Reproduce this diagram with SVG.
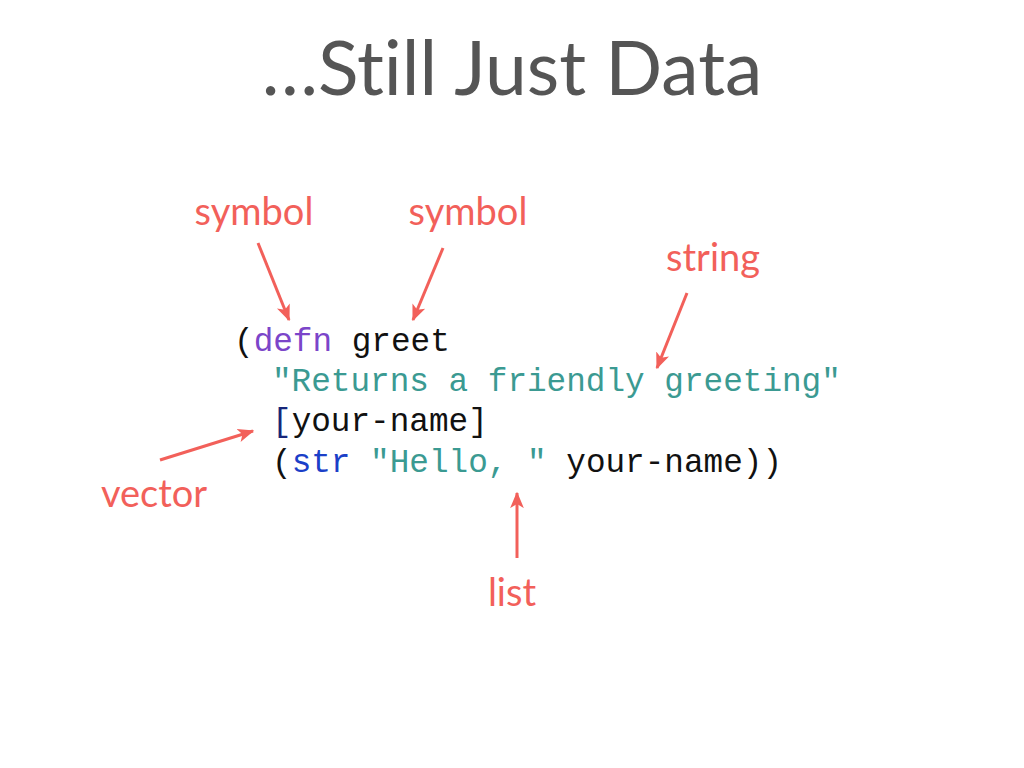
<svg xmlns="http://www.w3.org/2000/svg" width="1024" height="768" viewBox="0 0 1024 768">
<style>
.title{font-family:Lato,"Open Sans",sans-serif;font-size:75px;fill:#555555;font-variant-ligatures:none}
.lbl{font-family:Lato,"Open Sans",sans-serif;font-size:38px;fill:#f2605a;text-anchor:middle}
.code{font-family:"Liberation Mono",monospace;font-size:32.7px;fill:#111111;white-space:pre}
.kw{fill:#7b45c9}
.str{fill:#3b9a92}
.vec{fill:#17267a}
.fn{fill:#1b3fc8}
.arr{stroke:#f2605a;stroke-width:3;fill:none;marker-end:url(#ah)}
</style>
<defs>
<marker id="ah" viewBox="0 0 12 10" refX="11" refY="5" markerWidth="5.5" markerHeight="5.5" orient="auto" markerUnits="strokeWidth">
<path d="M0,0 L12,5 L0,10 L3,5 Z" fill="#f2605a"/>
</marker>
</defs>
<rect width="1024" height="768" fill="#ffffff"/>
<text class="title" x="512" y="95" text-anchor="middle">…Still Just Data</text>
<g id="code">
<text class="code" x="234" y="351">(<tspan class="kw">defn</tspan> greet</text>
<text class="code str" x="272" y="391">"Returns a friendly greeting"</text>
<text class="code" x="272" y="431"><tspan class="vec">[</tspan>your-name]</text>
<text class="code" x="272" y="472">(<tspan class="fn">str</tspan> <tspan class="str">"Hello, "</tspan> your-name))</text>
</g>
<g id="label-symbol1"><text class="lbl" x="254" y="225">symbol</text></g>
<g id="label-symbol2"><text class="lbl" x="468" y="225">symbol</text></g>
<g id="label-string"><text class="lbl" x="713" y="271">string</text></g>
<g id="label-vector"><text class="lbl" x="154" y="507">vector</text></g>
<g id="label-list"><text class="lbl" x="512" y="606">list</text></g>
<g id="connectors">
<line class="arr" x1="258" y1="243" x2="289" y2="320"/>
<line class="arr" x1="443" y1="248" x2="413" y2="320"/>
<line class="arr" x1="687" y1="293" x2="657" y2="368"/>
<line class="arr" x1="160" y1="460" x2="253" y2="431"/>
<line class="arr" x1="517" y1="558" x2="517" y2="493"/>
</g>
</svg>
